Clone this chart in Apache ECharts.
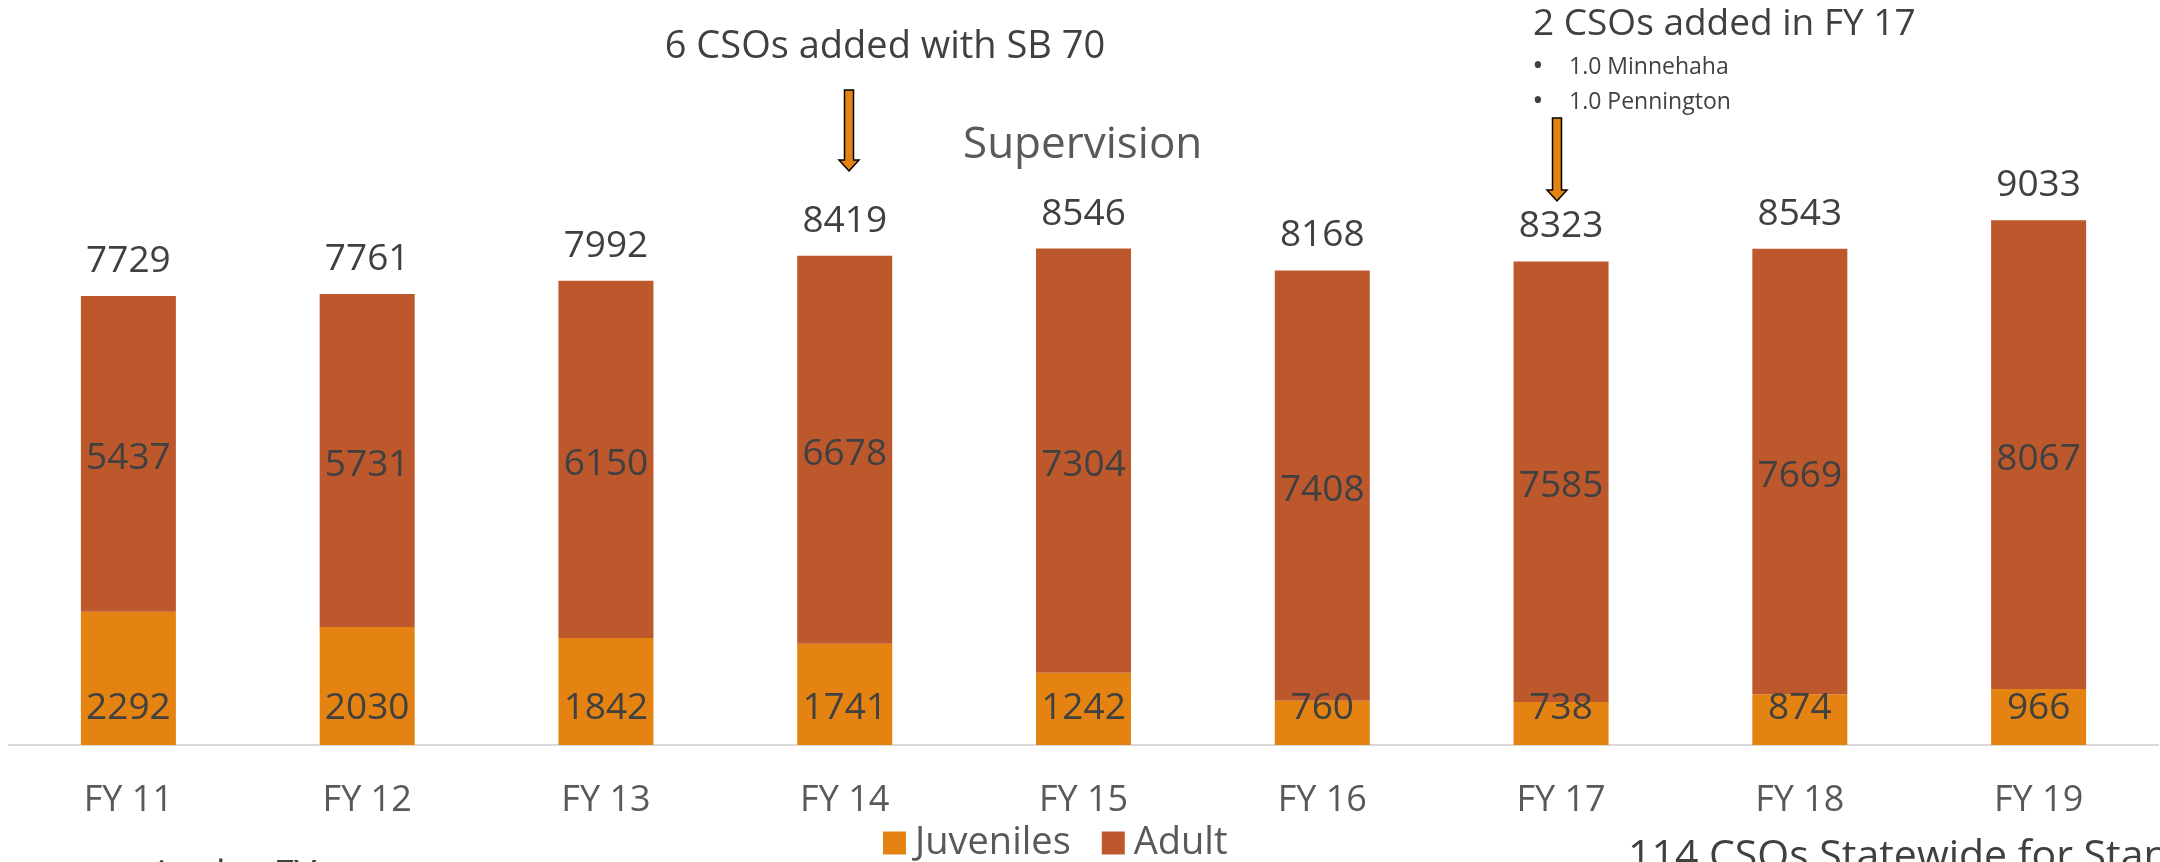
<!DOCTYPE html>
<html>
<head>
<meta charset="utf-8">
<script src="https://cdn.jsdelivr.net/npm/echarts@6/dist/echarts.min.js"></script>
<style>
  html, body { margin: 0; padding: 0; background: #fff; }
  #chart { width: 2160px; height: 862px; }
</style>
</head>
<body>
<div id="chart"></div>
<script>
  /* data */
  var years = ['FY 11', 'FY 12', 'FY 13', 'FY 14', 'FY 15', 'FY 16', 'FY 17', 'FY 18', 'FY 19'];
  var juveniles = [2292, 2030, 1842, 1741, 1242, 760, 738, 874, 966];
  var adult = [5437, 5731, 6150, 6678, 7304, 7408, 7585, 7669, 8067];
  var totals = [7729, 7761, 7992, 8419, 8546, 8168, 8323, 8543, 9033];

  var font = '"Open Sans", "Noto Sans", sans-serif';
  var dark = '#404040';
  var grey = '#595959';

  // orange down arrow with black outline
  function arrow(cx, y0, y1) {
    var bw = 4.5, hw = 10, hh = 11;
    return {
      type: 'polygon',
      shape: {
        points: [
          [cx - bw, y0], [cx + bw, y0], [cx + bw, y1 - hh], [cx + hw, y1 - hh],
          [cx, y1], [cx - hw, y1 - hh], [cx - bw, y1 - hh]
        ]
      },
      style: { fill: '#E48312', stroke: '#000', lineWidth: 1.5 }
    };
  }

  function txt(x, y, s, size, color, align) {
    return {
      type: 'text', x: x, y: y,
      style: {
        text: s, fontFamily: font, fontSize: size, fill: color,
        align: align || 'left', verticalAlign: 'middle'
      }
    };
  }

  var chart = echarts.init(document.getElementById('chart'));

  var option = {
    backgroundColor: '#fff',
    animation: false,
    title: {
      text: 'Supervision',
      left: 958,
      top: 118,
      textStyle: { fontFamily: font, fontSize: 44, fontWeight: 'normal', color: grey }
    },
    legend: {
      data: ['Juveniles', 'Adult'],
      left: 883,
      top: 824,
      padding: 0,
      icon: 'rect',
      itemWidth: 23,
      itemHeight: 23,
      itemGap: 31,
      textStyle: { fontFamily: font, fontSize: 38, color: grey, padding: [0, 0, 0, 4] }
    },
    grid: { left: 9, right: 2, top: 164, bottom: 117 },
    xAxis: {
      type: 'category',
      data: years,
      axisLine: { lineStyle: { color: '#D9D9D9', width: 2 } },
      axisTick: { show: false },
      axisLabel: { fontFamily: font, fontSize: 36, color: grey, margin: 38 }
    },
    yAxis: {
      type: 'value',
      min: 0,
      max: 10000,
      show: false,
      splitLine: { show: false }
    },
    series: [
      {
        name: 'Juveniles',
        type: 'bar',
        stack: 'sup',
        barWidth: 95,
        data: juveniles,
        itemStyle: { color: '#E48312' },
        label: {
          show: true, position: 'insideBottom', distance: 18,
          fontFamily: font, fontSize: 37, color: dark
        }
      },
      {
        name: 'Adult',
        type: 'bar',
        stack: 'sup',
        barWidth: 95,
        data: adult,
        itemStyle: { color: '#BC582C' },
        label: {
          show: true, position: 'inside', offset: [0, 5],
          fontFamily: font, fontSize: 37, color: dark
        }
      },
      {
        // totals written above each stack
        name: 'Total',
        type: 'scatter',
        data: totals,
        symbolSize: 2,
        itemStyle: { color: 'rgba(0,0,0,0)' },
        silent: true,
        z: 5,
        label: {
          show: true, position: 'top', distance: 15, opacity: 1,
          fontFamily: font, fontSize: 37, color: dark
        }
      }
    ],
    graphic: [
      txt(885, 47, '6 CSOs added with SB 70', 38, dark, 'center'),
      arrow(849, 90, 171),
      txt(1533, 24, '2 CSOs added in FY 17', 37, dark),
      txt(1538, 66, '\u2022', 30, dark, 'center'),
      txt(1569, 67, '1.0 Minnehaha', 23, dark),
      txt(1538, 101, '\u2022', 30, dark, 'center'),
      txt(1569, 102, '1.0 Pennington', 23, dark),
      arrow(1557, 118, 201),
      txt(1628, 857, '114 CSOs Statewide for Standard Supervision', 41, dark),
      txt(6, 878, 'as seen in the FY', 40, dark)
    ]
  };

  chart.setOption(option);
</script>
</body>
</html>
